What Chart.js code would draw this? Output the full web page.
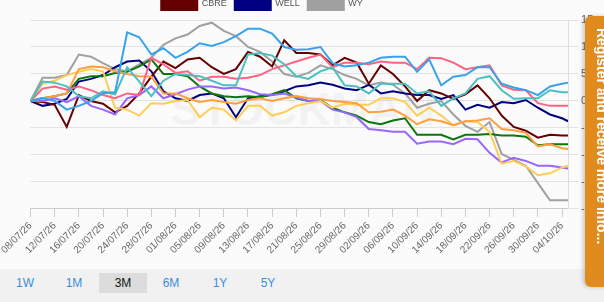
<!DOCTYPE html>
<html>
<head>
<meta charset="utf-8">
<script src="https://cdn.jsdelivr.net/npm/chart.js@4.4.1/dist/chart.umd.min.js"></script>
<style>
  html, body { margin: 0; padding: 0; background: #fbfbfb; overflow: hidden; }
  #wrap { position: relative; width: 604px; height: 302px; overflow: hidden; font-family: "Liberation Sans", Arial, sans-serif; }
  #chartBox { position: absolute; left: 0; top: -10px; width: 600px; height: 269px; }
  #ranges { position: absolute; left: 0; top: 269px; width: 604px; height: 33px; background: #f1f1f1; }
  .rng { position: absolute; top: 4px; width: 48px; height: 20px; line-height: 20px; font-size: 12px; color: #3d8ddb; text-align: center; }
  .rng.on { background: #dcdcdc; color: #111; }
  #tab { position: absolute; left: 585px; top: 16px; width: 40px; height: 271px; background: #e08b1d; border-radius: 6px; box-shadow: -2px 0 4px rgba(0,0,0,0.2); }
  #tab span { position: absolute; left: 9px; top: 12px; writing-mode: vertical-rl; color: #fff; font-weight: bold; font-size: 14px; white-space: nowrap; }
</style>
</head>
<body>
<div id="wrap">
  <div id="chartBox"><canvas id="chart"></canvas></div>
  <div id="ranges">
    <span class="rng" style="left:1px">1W</span>
    <span class="rng" style="left:50px">1M</span>
    <span class="rng on" style="left:99px">3M</span>
    <span class="rng" style="left:147px">6M</span>
    <span class="rng" style="left:196px">1Y</span>
    <span class="rng" style="left:244px">5Y</span>
  </div>
  <div id="tab"><span>Register and receive more info...</span></div>
</div>
<script>
// sample dates (dd/mm/yy), values are % change since 08/07/26
const dates = ["08/07/26","10/07/26","12/07/26","14/07/26","16/07/26","18/07/26","20/07/26","22/07/26","24/07/26","26/07/26",
  "28/07/26","30/07/26","01/08/26","03/08/26","05/08/26","07/08/26","09/08/26","11/08/26","13/08/26","15/08/26",
  "17/08/26","19/08/26","21/08/26","23/08/26","25/08/26","27/08/26","29/08/26","31/08/26","02/09/26","04/09/26",
  "06/09/26","08/09/26","10/09/26","12/09/26","14/09/26","16/09/26","18/09/26","20/09/26","22/09/26","24/09/26",
  "26/09/26","28/09/26","30/09/26","02/10/26","04/10/26","05/10/26"];

const tickLabels = ["08/07/26","12/07/26","16/07/26","20/07/26","24/07/26","28/07/26","01/08/26","05/08/26","09/08/26",
  "13/08/26","17/08/26","21/08/26","25/08/26","29/08/26","02/09/26","06/09/26","10/09/26","14/09/26","18/09/26",
  "22/09/26","26/09/26","30/09/26","04/10/26"];
const yTicks = [-20, -15, -10, -5, 0, 5, 10, 15];

const cbre = [0, -0.2, -0.7, -4.8, 1.1, 0, -0.5, -2.1, -0.9, 1.4, 4.5, 7.3, 6.1, 7.7, 8.0, 6.25, 5.0, 5.9, 9.1, 8.2,
  6.4, 11.25, 8.9, 8.9, 8.6, 6.6, 8.0, 7.1, 3.2, 6.6, 5.0, 2.7, 0, 2.0, 1.4, 0.4, 1.25, 2.9, 0.5, -2.7,
  -4.8, -5.5, -6.8, -6.25, -6.4, -6.4];
const well = [0, -0.9, -0.5, 0.36, 3.6, 4.1, 4.8, 6.25, 7.3, 7.5, 5.5, 1.8, 0.5, 0, 1.1, 1.4, 0.5, -3.0, 0.5, 0.9,
  1.1, 1.8, 2.7, 2.9, 3.4, 3.0, 2.3, 2.0, 3.0, 1.4, 1.8, 1.4, 1.1, 1.1, 0.36, 1.1, -1.6, -0.7, -1.25, -0.2,
  -0.4, 0.18, -1.25, -2.5, -3.2, -3.75];
const wy = [0, 4.3, 4.3, 4.8, 8.6, 8.2, 7.0, 5.9, 5.5, 6.8, 8.0, 10.4, 11.6, 12.3, 13.9, 14.5, 13.0, 12.0, 10.0, 9.1,
  7.3, 5.0, 4.5, 5.2, 6.6, 5.9, 4.8, 4.1, 2.9, 3.4, 3.0, 1.4, -1.25, -0.5, 0, -2.5, -4.6, -5.7, -3.9, -9.8,
  -10.9, -12.0, -15.2, -18.4, -18.4, -18.4];
const blue = [0, 0.54, 0, -1.6, -0.9, 0, 1.43, 1.6, 12.7, 11.8, 8.6, 9.8, 8.0, 9.1, 10.7, 10.2, 10.9, 12.0, 13.4, 13.4,
  12.5, 10.0, 9.5, 9.6, 10.0, 7.0, 6.4, 6.6, 7.1, 8.0, 8.2, 8.2, 5.4, 7.7, 2.9, 4.5, 4.8, 6.25, 6.25, 3.2,
  2.5, 2.0, 1.1, 2.7, 3.2, 3.4];
const teal = [0, 3.6, 3.4, 2.7, 0.9, 0.5, 1.8, 1.25, 6.25, 3.6, 0.9, 3.75, 5.0, 4.8, 4.6, 3.75, 2.9, 2.9, 8.6, 8.9,
  8.4, 6.8, 4.6, 4.1, 5.5, 6.25, 2.9, 2.7, 1.4, 3.2, 3.2, 3.2, 1.4, 1.8, -0.9, 0.5, 1.4, 4.1, 4.6, 2.0,
  0.4, 0.5, 0.5, 2.0, 1.6, 1.6];
const pink = [0, 2.3, 2.7, 2.1, 2.7, 2.0, 1.1, 0.5, 1.4, 1.1, 8.0, 6.8, 5.2, 5.5, 3.75, 4.5, 4.5, 4.1, 4.3, 4.8,
  5.9, 6.6, 7.3, 8.0, 8.6, 6.25, 7.1, 7.1, 6.8, 7.3, 7.1, 7.1, 5.9, 8.0, 7.9, 7.1, 5.9, 6.25, 6.6, 2.9,
  2.1, 2.0, -0.4, -0.9, -0.9, -0.9];
const green = [0, 0.5, 0.9, 1.4, 4.1, 4.6, 4.6, 5.2, 5.4, 6.4, 7.7, 5.0, 5.0, 4.6, 2.7, 1.4, 0.9, 0.7, 0.9, 0.7,
  1.25, 2.0, 0.5, 0, 0.18, -1.25, -2.1, -2.7, -3.9, -4.3, -3.6, -3.2, -6.25, -6.25, -6.25, -7.1, -6.25, -6.25, -6.1, -6.4,
  -6.4, -6.6, -8.2, -8.0, -8.0, -8.0];
const purple = [0, 0, 0.5, -0.2, 0.9, -0.9, -1.6, -2.5, 0.5, 1.1, 2.7, 0.5, 1.25, 2.1, 2.7, 2.7, 2.3, 2.5, 2.0, 1.25,
  1.1, 1.4, 0.7, 0, 0, -1.6, -2.1, -3.0, -5.2, -5.4, -5.7, -5.7, -7.9, -7.5, -7.5, -8.0, -7.0, -7.1, -9.6, -11.4,
  -10.5, -11.1, -12.0, -12.0, -12.3, -12.5];
const orange = [0, 0.5, 0.9, 1.4, 5.9, 6.4, 6.25, 5.5, 5.0, 4.6, 4.5, 1.4, 1.4, 0.5, -0.2, 0.18, -0.2, -0.5, 0.18, 0.5,
  0, 0.5, 0.9, 0.5, 0.36, 0, -0.2, -0.4, -2.1, -2.0, -1.6, -2.7, -4.3, -3.4, -3.75, -4.5, -3.75, -3.6, -3.2, -5.2,
  -5.4, -5.9, -8.4, -8.0, -8.75, -8.9];
const yellow = [0, 3.2, 3.75, 4.8, 5.4, 5.9, 5.5, -1.25, -1.6, -2.7, -0.4, -0.5, 0, 0.18, -3.0, -1.25, -1.6, -3.6, -0.9, -0.9,
  -2.7, -2.1, -0.9, -0.4, 0, -1.25, -0.5, -0.7, -0.7, 0.5, 0.5, -0.2, -2.7, -1.25, -2.7, -4.5, -3.75, -3.9, -5.7, -11.6,
  -11.1, -12.1, -13.75, -13.4, -12.3, -12.0];

// only the last legend row is on screen
const legendNames = ["CBRE", "WELL", "WY"];

// day offset from the first date
function dayOf(s) {
  const p = s.split("/");
  return Date.UTC(2000 + +p[2], p[1] - 1, +p[0]);
}
const day0 = dayOf(dates[0]);
const days = dates.map(d => Math.round((dayOf(d) - day0) / 86400000));

function series(label, values, color) {
  return {
    label: label,
    data: values.map((v, i) => ({ x: days[i], y: v })),
    borderColor: color,
    backgroundColor: color,
    borderWidth: 2,
    pointRadius: 0,
    tension: 0,
    fill: false
  };
}

const datasets = [
  series("blue", blue, "#36a2eb"),
  series("teal", teal, "#4bc0c0"),
  series("pink", pink, "#ff6384"),
  series("orange", orange, "#ff9f40"),
  series("yellow", yellow, "#ffcd56"),
  series("purple", purple, "#9966ff"),
  series("green", green, "#0b770b"),
  series("CBRE", cbre, "#660000"),
  series("WELL", well, "#000080"),
  series("WY", wy, "#a0a0a0")
];

// the page centres this legend row further left than Chart.js does
const legendShift = {
  id: "legendShift",
  afterLayout(chart) {
    chart.legend.left -= 38;
    chart.legend.right -= 38;
  }
};

const watermark = {
  id: "watermark",
  beforeDatasetsDraw(chart) {
    const a = chart.chartArea;
    const c = chart.ctx;
    c.save();
    c.font = "bold 46px 'Liberation Sans', Arial, sans-serif";
    c.fillStyle = "rgba(0,0,0,0.035)";
    c.textBaseline = "middle";
    c.fillText("STOCKMAN", a.left + 140, a.top + 92);
    c.restore();
  }
};

const ctx = document.getElementById("chart").getContext("2d");
new Chart(ctx, {
  type: "line",
  data: { datasets: datasets },
  options: {
    responsive: true,
    maintainAspectRatio: false,
    animation: false,
    layout: { padding: 0 },
    plugins: {
      legend: {
        position: "top",
        labels: {
          filter: item => legendNames.includes(item.text),
          boxWidth: 36,
          boxHeight: 12,
          color: "#555",
          font: { size: 9, family: "'Liberation Sans', Arial, sans-serif" },
          padding: 8
        }
      },
      tooltip: { enabled: false }
    },
    scales: {
      x: {
        type: "linear",
        min: days[0],
        max: days[days.length - 1],
        ticks: {
          stepSize: 4,
          includeBounds: false,
          autoSkip: false,
          minRotation: 45,
          maxRotation: 45,
          color: "#666",
          font: { size: 10, family: "'Liberation Sans', Arial, sans-serif" },
          callback: v => (v % 4 === 0 ? tickLabels[v / 4] : "")
        },
        grid: { drawOnChartArea: false, tickLength: 8, color: "#cccccc" },
        border: { color: "#cccccc" }
      },
      y: {
        position: "right",
        min: yTicks[0],
        max: yTicks[yTicks.length - 1],
        ticks: {
          stepSize: 5,
          color: "#666",
          font: { size: 11, family: "'Liberation Sans', Arial, sans-serif" }
        },
        grid: { color: "#e2e2e2", tickLength: 10 },
        border: { color: "#dddddd" }
      }
    }
  },
  plugins: [legendShift, watermark]
});
</script>
</body>
</html>
